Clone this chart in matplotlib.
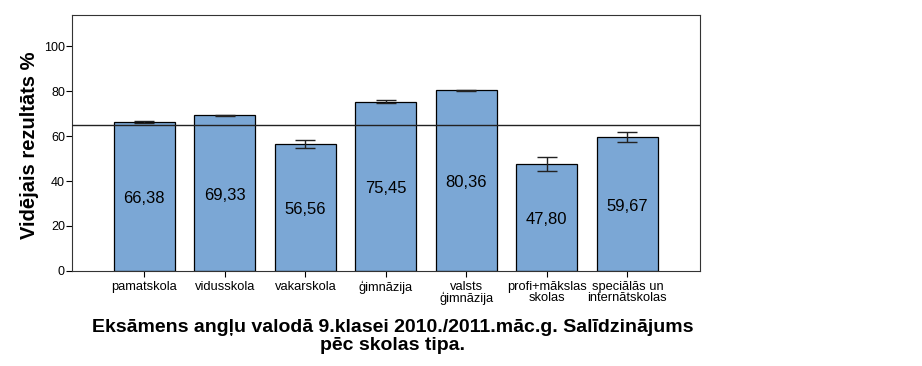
import matplotlib.pyplot as plt
import numpy as np

plt.rcParams['font.family'] = ['Liberation Sans', 'DejaVu Sans']

categories = ['pamatskola', 'vidusskola', 'vakarskola', 'ģimnāzija',
              'valsts\nģimnāzija', 'profi+mākslas\nskolas', 'speciālās un\ninternātskolas']
means = [66.38, 69.33, 56.56, 75.45, 80.36, 47.80, 59.67]
errors = [0.5, 0.3, 1.9, 0.6, 0.4, 3.1, 2.4]
overall_mean = 65.2
yticks = [0, 20, 40, 60, 80, 100]

fig = plt.figure(figsize=(9.22, 3.66), dpi=100)
ax = fig.add_axes([0.078, 0.26, 0.681, 0.699])

x = np.arange(len(categories))
ax.bar(x, means, width=0.76, color='#7BA7D5', edgecolor='black', linewidth=0.9, zorder=2)
ax.errorbar(x, means, yerr=errors, fmt='none', ecolor='#222222', elinewidth=1,
            capsize=7.5, capthick=1, zorder=3)
ax.axhline(overall_mean, color='#222222', linewidth=1, zorder=4)

# labels sit a bit below the middle of the bar
for xi, m in zip(x, means):
    ax.text(xi, m / 2 - 1, f'{m:.2f}'.replace('.', ','), ha='center', va='center',
            fontsize=12, zorder=5)

ax.set_xlim(-0.9, 6.9)
ax.set_ylim(0, 114)
ax.set_yticks(yticks)
ax.set_xticks(x)
ax.set_xticklabels(categories, fontsize=9.3, linespacing=0.9)
ax.tick_params(axis='y', labelsize=9, length=4, pad=1)
ax.tick_params(axis='x', length=4)
for s in ax.spines.values():
    s.set_color('#333333')

ax.set_ylabel('Vidējais rezultāts %', fontsize=14.5, fontweight='bold', va='center')
ax.yaxis.set_label_coords(-0.067, 0.49)

fig.text(0.426, 0.08, 'Eksāmens angļu valodā 9.klasei 2010./2011.māc.g. Salīdzinājums\npēc skolas tipa.',
         ha='center', va='center', fontsize=14, fontweight='bold', linespacing=1.05)

fig.savefig('out.png', dpi=100)
